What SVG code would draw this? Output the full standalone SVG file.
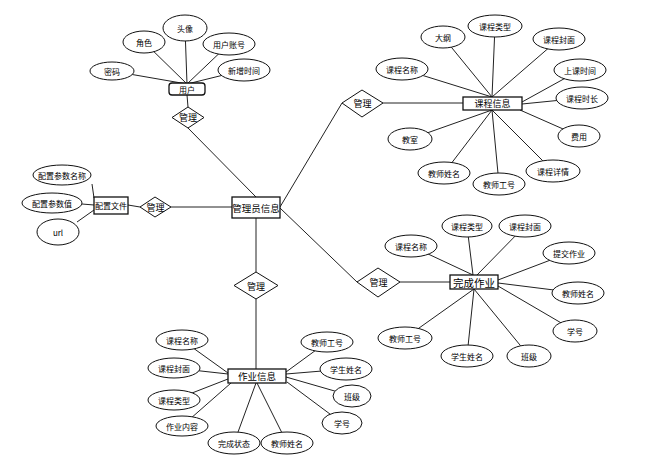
<svg xmlns="http://www.w3.org/2000/svg" width="659" height="471" viewBox="0 0 659 471">
<style>
.bg{fill:#fff}
.ln{stroke:#222;stroke-width:1;fill:none}
.at{fill:#fff;stroke:#111;stroke-width:1}
.en{fill:#fff;stroke:#111;stroke-width:1.3}
.rel{fill:#fff;stroke:#111;stroke-width:1}
text{font-family:"Noto Sans CJK SC","Liberation Sans",sans-serif;fill:#000;text-anchor:middle;dominant-baseline:central}
.s{font-size:8px}
.m{font-size:9px}
.l{font-size:9.5px}
.xl{font-size:10.5px}
</style>
<rect class="bg" x="0" y="0" width="659" height="471"/>
<g id="connectors" class="ln">
<line x1="112" y1="71" x2="187" y2="84"/>
<line x1="144" y1="42" x2="187" y2="84"/>
<line x1="185" y1="28" x2="187" y2="84"/>
<line x1="229" y1="44" x2="187" y2="84"/>
<line x1="244" y1="70" x2="187" y2="84"/>
<line x1="187" y1="95" x2="188" y2="107"/>
<line x1="188" y1="128" x2="256" y2="197"/>
<line x1="92" y1="184" x2="94" y2="198"/>
<line x1="82" y1="204" x2="94" y2="205"/>
<line x1="77" y1="222" x2="94" y2="210"/>
<line x1="128" y1="205" x2="140" y2="207"/>
<line x1="171" y1="207" x2="232" y2="207"/>
<line x1="280" y1="207" x2="342" y2="103"/>
<line x1="280" y1="208" x2="357" y2="282"/>
<line x1="256" y1="218" x2="256" y2="272"/>
<line x1="256" y1="299" x2="256" y2="369"/>
<line x1="383" y1="103" x2="463" y2="103"/>
<line x1="402" y1="69" x2="492" y2="97"/>
<line x1="443" y1="37" x2="492" y2="97"/>
<line x1="495" y1="26" x2="492" y2="97"/>
<line x1="559" y1="39" x2="492" y2="97"/>
<line x1="580" y1="70" x2="522" y2="102"/>
<line x1="582" y1="98" x2="522" y2="104"/>
<line x1="579" y1="136" x2="520" y2="110"/>
<line x1="553" y1="171" x2="492" y2="110"/>
<line x1="499" y1="184" x2="492" y2="110"/>
<line x1="444" y1="173" x2="492" y2="110"/>
<line x1="410" y1="139" x2="492" y2="110"/>
<line x1="400" y1="282" x2="450" y2="282"/>
<line x1="411" y1="246" x2="473" y2="275"/>
<line x1="467" y1="226" x2="473" y2="275"/>
<line x1="525" y1="226" x2="477" y2="275"/>
<line x1="569" y1="253" x2="498" y2="280"/>
<line x1="578" y1="293" x2="498" y2="283"/>
<line x1="575" y1="331" x2="498" y2="286"/>
<line x1="529" y1="356" x2="474" y2="289"/>
<line x1="467" y1="356" x2="474" y2="289"/>
<line x1="405" y1="338" x2="474" y2="289"/>
<line x1="182" y1="340" x2="228" y2="373"/>
<line x1="174" y1="368" x2="228" y2="374"/>
<line x1="174" y1="400" x2="228" y2="379"/>
<line x1="182" y1="426" x2="231" y2="383"/>
<line x1="234" y1="443" x2="256" y2="383"/>
<line x1="287" y1="443" x2="257" y2="383"/>
<line x1="327" y1="342" x2="286" y2="372"/>
<line x1="346" y1="369" x2="286" y2="374"/>
<line x1="352" y1="396" x2="286" y2="377"/>
<line x1="342" y1="423" x2="287" y2="382"/>
</g>

<g id="user">
<rect class="en" x="169" y="83" width="36" height="12" rx="3"/>
<text class="s" x="187" y="89">用户</text>
</g>
<g id="user-pwd"><ellipse class="at" cx="112" cy="71" rx="22" ry="9"/><text class="s" x="112" y="71">密码</text></g>
<g id="user-role"><ellipse class="at" cx="144" cy="42" rx="21" ry="11"/><text class="s" x="144" y="42">角色</text></g>
<g id="user-avatar"><ellipse class="at" cx="185" cy="28" rx="22" ry="13"/><text class="s" x="185" y="28">头像</text></g>
<g id="user-account"><ellipse class="at" cx="229" cy="44" rx="26" ry="11"/><text class="s" x="229" y="44">用户账号</text></g>
<g id="user-time"><ellipse class="at" cx="244" cy="70" rx="26" ry="11"/><text class="s" x="244" y="70">新增时间</text></g>
<g id="rel-user"><polygon class="rel" points="188,107 204,117.5 188,128 172,117.5"/><text class="m" x="188" y="117.5">管理</text></g>

<g id="admin">
<rect class="en" x="232" y="197" width="48" height="21"/>
<text class="l" x="256" y="207.5">管理员信息</text>
</g>

<g id="config">
<rect class="en" x="94" y="197" width="34" height="17"/>
<text class="s" x="111" y="205.5">配置文件</text>
</g>
<g id="cfg-name"><ellipse class="at" cx="62" cy="175" rx="29" ry="10"/><text class="s" x="62" y="175">配置参数名称</text></g>
<g id="cfg-val"><ellipse class="at" cx="52" cy="203" rx="30" ry="10"/><text class="s" x="52" y="203">配置参数值</text></g>
<g id="cfg-url"><ellipse class="at" cx="58" cy="232" rx="21" ry="13"/><text class="s" x="58" y="232">url</text></g>
<g id="rel-config"><polygon class="rel" points="155,197 171,207 155,217 140,207"/><text class="m" x="155.5" y="207">管理</text></g>

<g id="course">
<rect class="en" x="463" y="97" width="59" height="13"/>
<text class="m" x="492.5" y="103.5">课程信息</text>
</g>
<g id="rel-course"><polygon class="rel" points="362,90 383,103 362,117 342,103"/><text class="m" x="362.5" y="103.5">管理</text></g>
<g id="c-name"><ellipse class="at" cx="402" cy="69" rx="26" ry="11"/><text class="s" x="402" y="69">课程名称</text></g>
<g id="c-outline"><ellipse class="at" cx="443" cy="37" rx="22" ry="11"/><text class="s" x="443" y="37">大纲</text></g>
<g id="c-type"><ellipse class="at" cx="495" cy="26" rx="27" ry="11"/><text class="s" x="495" y="26">课程类型</text></g>
<g id="c-cover"><ellipse class="at" cx="559" cy="39" rx="26" ry="11"/><text class="s" x="559" y="39">课程封面</text></g>
<g id="c-time"><ellipse class="at" cx="580" cy="70" rx="26" ry="11"/><text class="s" x="580" y="70">上课时间</text></g>
<g id="c-dur"><ellipse class="at" cx="582" cy="98" rx="26" ry="11"/><text class="s" x="582" y="98">课程时长</text></g>
<g id="c-fee"><ellipse class="at" cx="579" cy="136" rx="21" ry="11"/><text class="s" x="579" y="136">费用</text></g>
<g id="c-detail"><ellipse class="at" cx="553" cy="171" rx="27" ry="11"/><text class="s" x="553" y="171">课程详情</text></g>
<g id="c-tno"><ellipse class="at" cx="499" cy="184" rx="26" ry="11"/><text class="s" x="499" y="184">教师工号</text></g>
<g id="c-tname"><ellipse class="at" cx="444" cy="173" rx="26" ry="11"/><text class="s" x="444" y="173">教师姓名</text></g>
<g id="c-room"><ellipse class="at" cx="410" cy="139" rx="22" ry="11"/><text class="s" x="410" y="139">教室</text></g>

<g id="done">
<rect class="en" x="450" y="275" width="48" height="14"/>
<text class="xl" x="474" y="282">完成作业</text>
</g>
<g id="rel-done"><polygon class="rel" points="378,268 400,282 378,297 357,282"/><text class="m" x="378.5" y="282.5">管理</text></g>
<g id="d-name"><ellipse class="at" cx="411" cy="246" rx="26" ry="11"/><text class="s" x="411" y="246">课程名称</text></g>
<g id="d-type"><ellipse class="at" cx="467" cy="226" rx="25" ry="11"/><text class="s" x="467" y="226">课程类型</text></g>
<g id="d-cover"><ellipse class="at" cx="525" cy="226" rx="26" ry="11"/><text class="s" x="525" y="226">课程封面</text></g>
<g id="d-submit"><ellipse class="at" cx="569" cy="253" rx="26" ry="11"/><text class="s" x="569" y="253">提交作业</text></g>
<g id="d-tname"><ellipse class="at" cx="578" cy="293" rx="26" ry="11"/><text class="s" x="578" y="293">教师姓名</text></g>
<g id="d-sno"><ellipse class="at" cx="575" cy="331" rx="22" ry="11"/><text class="s" x="575" y="331">学号</text></g>
<g id="d-class"><ellipse class="at" cx="529" cy="356" rx="22" ry="11"/><text class="s" x="529" y="356">班级</text></g>
<g id="d-sname"><ellipse class="at" cx="467" cy="356" rx="26" ry="11"/><text class="s" x="467" y="356">学生姓名</text></g>
<g id="d-tno"><ellipse class="at" cx="405" cy="338" rx="27" ry="11"/><text class="s" x="405" y="338">教师工号</text></g>

<g id="rel-admin-hw"><polygon class="rel" points="256,272 278,285.5 256,299 234,285.5"/><text class="m" x="256" y="286">管理</text></g>
<g id="hw">
<rect class="en" x="228" y="369" width="58" height="14"/>
<text class="l" x="257" y="376">作业信息</text>
</g>
<g id="h-name"><ellipse class="at" cx="182" cy="340" rx="26" ry="10"/><text class="s" x="182" y="340">课程名称</text></g>
<g id="h-cover"><ellipse class="at" cx="174" cy="368" rx="26" ry="10"/><text class="s" x="174" y="368">课程封面</text></g>
<g id="h-type"><ellipse class="at" cx="174" cy="400" rx="26" ry="10"/><text class="s" x="174" y="400">课程类型</text></g>
<g id="h-content"><ellipse class="at" cx="182" cy="426" rx="26" ry="10"/><text class="s" x="182" y="426">作业内容</text></g>
<g id="h-status"><ellipse class="at" cx="234" cy="443" rx="26" ry="11"/><text class="s" x="234" y="443">完成状态</text></g>
<g id="h-tname"><ellipse class="at" cx="287" cy="443" rx="26" ry="11"/><text class="s" x="287" y="443">教师姓名</text></g>
<g id="h-tno"><ellipse class="at" cx="327" cy="342" rx="26" ry="10"/><text class="s" x="327" y="342">教师工号</text></g>
<g id="h-sname"><ellipse class="at" cx="346" cy="369" rx="26" ry="11"/><text class="s" x="346" y="369">学生姓名</text></g>
<g id="h-class"><ellipse class="at" cx="352" cy="396" rx="19" ry="11"/><text class="s" x="352" y="396">班级</text></g>
<g id="h-sno"><ellipse class="at" cx="342" cy="423" rx="20" ry="11"/><text class="s" x="342" y="423">学号</text></g>
</svg>
